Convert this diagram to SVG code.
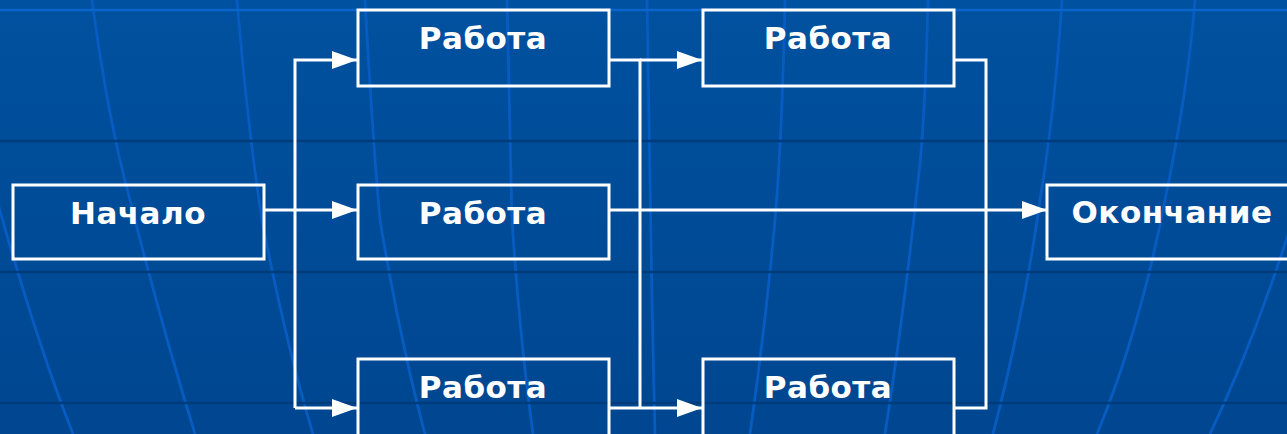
<svg xmlns="http://www.w3.org/2000/svg" width="1287" height="434" viewBox="0 0 1287 434">
  <defs>
    <linearGradient id="bg" x1="0" y1="0" x2="0" y2="1">
      <stop offset="0" stop-color="#00519f"/>
      <stop offset="1" stop-color="#004690"/>
    </linearGradient>
    <marker id="arr" markerUnits="userSpaceOnUse" markerWidth="26" markerHeight="20" refX="25" refY="9" orient="auto">
      <path d="M0,0 L25,9 L0,18 Z" fill="#ffffff"/>
    </marker>
    <style>
      .mer { fill: none; stroke: #075cc2; stroke-width: 2.8; }
      .dark { stroke: #003c7c; stroke-width: 2.5; }
      .box { fill: none; stroke: #ffffff; stroke-width: 3; }
      .lbl { font-family: "DejaVu Sans", Verdana, sans-serif; font-weight: bold; font-size: 31px; letter-spacing: 0.5px; fill: #ffffff; text-anchor: middle; }
      .conn { fill: none; stroke: #ffffff; stroke-width: 3; }
    </style>
  </defs>

  <g id="background">
    <rect x="0" y="0" width="1287" height="434" fill="url(#bg)"/>
    <path class="mer" d="M92,0 Q108,120 130,200 Q160,320 195,434"/>
    <path class="mer" d="M237,0 Q248,130 262,220 Q285,340 313,434"/>
    <path class="mer" d="M-40,60 Q20,300 73,434"/>
    <path class="mer" d="M365,0 Q372,130 380,220 Q400,340 425,434"/>
    <path class="mer" d="M507,0 Q510,150 512,220 Q520,340 533,434"/>
    <path class="mer" d="M647,0 Q650,200 652,300 L655,434"/>
    <path class="mer" d="M785,0 Q782,140 775,220 Q765,330 750,434"/>
    <path class="mer" d="M928,0 Q925,130 917,190 Q903,320 885,434"/>
    <path class="mer" d="M1062,0 Q1055,110 1040,200 Q1025,310 993,434"/>
    <path class="mer" d="M1195,0 Q1188,90 1165,200 Q1140,330 1097,434"/>
    <path class="mer" d="M1330,60 Q1300,200 1283,250 Q1250,350 1210,434"/>
    <line x1="0" y1="10" x2="1287" y2="10" stroke="#0a66cc" stroke-width="2.5"/>
    <line class="dark" x1="0" y1="141" x2="1287" y2="141"/>
    <line class="dark" x1="0" y1="272" x2="1287" y2="272"/>
    <line class="dark" x1="0" y1="403" x2="1287" y2="403"/>
  </g>

  <g id="connectors">
    <path class="conn" d="M264,210 L357,210" marker-end="url(#arr)"/>
    <path class="conn" d="M295,408 L295,60 L357,60" marker-end="url(#arr)"/>
    <path class="conn" d="M295,408 L357,408" marker-end="url(#arr)"/>
    <path class="conn" d="M609,60 L640,60 L640,408"/>
    <path class="conn" d="M640,60 L702,60" marker-end="url(#arr)"/>
    <path class="conn" d="M609,408 L702,408" marker-end="url(#arr)"/>
    <path class="conn" d="M609,210 L1047,210" marker-end="url(#arr)"/>
    <path class="conn" d="M954,60 L986,60 L986,408 L954,408"/>
  </g>

  <g id="start">
    <rect class="box" x="13" y="185" width="251" height="74"/>
    <text class="lbl" x="138" y="224">Начало</text>
  </g>
  <g id="work1">
    <rect class="box" x="358" y="10" width="251" height="76"/>
    <text class="lbl" x="483" y="49">Работа</text>
  </g>
  <g id="work2">
    <rect class="box" x="358" y="185" width="251" height="74"/>
    <text class="lbl" x="483" y="224">Работа</text>
  </g>
  <g id="work3">
    <rect class="box" x="358" y="359" width="251" height="80"/>
    <text class="lbl" x="483" y="398">Работа</text>
  </g>
  <g id="work4">
    <rect class="box" x="703" y="10" width="251" height="76"/>
    <text class="lbl" x="828" y="49">Работа</text>
  </g>
  <g id="work5">
    <rect class="box" x="703" y="359" width="251" height="80"/>
    <text class="lbl" x="828" y="398">Работа</text>
  </g>
  <g id="end">
    <rect class="box" x="1047" y="185" width="252" height="74"/>
    <text class="lbl" x="1172" y="223">Окончание</text>
  </g>
</svg>
